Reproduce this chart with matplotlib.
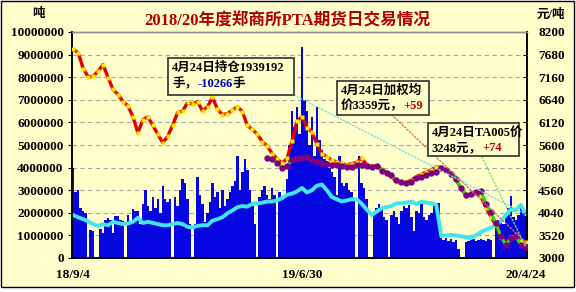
import numpy as np
import matplotlib
matplotlib.use('Agg')
import matplotlib.pyplot as plt
from matplotlib.patches import Rectangle, ConnectionPatch

plt.rcParams['font.family'] = ['Liberation Serif', 'Noto Sans CJK SC', 'DejaVu Sans']

# 日成交量（百万吨），约每2.5像素一根
vol = [
    4.0, 2.9, 3.0, 2.2, 2.1, 2.0, 0, 1.25, 1.2, 0,
    0, 1.3, 1.1, 1.7, 1.75, 1.7, 1.1, 1.85, 1.85, 1.7,
    1.65, 0, 1.9, 1.6, 2.15, 2.1, 2.1, 1.5, 2.4, 3.0,
    2.3, 2.1, 2.7, 2.2, 2.6, 2.0, 3.2, 2.6, 2.5, 2.6,
    0, 2.7, 2.3, 3.0, 3.5, 3.3, 2.6, 1.5, 0, 1.5,
    3.6, 2.8, 2.4, 1.6, 2.0, 2.5, 3.3, 2.7, 2.9, 2.2,
    3.0, 2.3, 2.6, 2.9, 3.2, 3.4, 4.5, 3.0, 3.8, 4.4,
    3.9, 3.0, 2.3, 1.5, 0, 2.7, 3.0, 3.2, 2.8, 2.6,
    3.1, 2.8, 0, 2.9, 2.6, 2.8, 3.5, 5.0, 6.5, 5.8,
    6.7, 5.5, 9.35, 7.0, 6.5, 5.0, 6.25, 4.5, 6.7, 5.2,
    4.8, 4.4, 4.3, 4.0, 3.8, 3.6, 2.8, 4.5, 3.3, 3.2,
    3.3, 3.0, 2.9, 2.6, 0, 4.5, 3.3, 3.1, 2.6, 0,
    0, 2.0, 2.2, 2.4, 2.2, 1.8, 1.7, 0, 1.9, 2.1,
    1.8, 1.5, 2.1, 2.3, 2.2, 2.35, 1.8, 1.2, 2.1, 2.0,
    2.4, 1.8, 1.7, 1.9, 2.0, 2.4, 2.3, 2.45, 0.9, 0.8,
    0.9, 0.75, 0.85, 0.7, 0.8, 0.4, 0, 0, 0.7, 0.75,
    0.8, 0.85, 0.75, 0.8, 0.85, 0.8, 0.75, 0.85, 0.8, 0,
    1.6, 1.7, 1.6, 1.5, 1.8, 2.2, 2.75, 1.8, 1.7, 1.9,
    2.3, 2.0, 2.0,
]

# 持仓（百万手），约每5像素一点
oi = [
    1.9, 1.8, 1.72, 1.62, 1.5, 1.42, 1.5, 1.45, 1.6, 1.55,
    1.5, 1.52, 1.6, 1.78, 1.55, 1.6, 1.55, 1.5, 1.45, 1.45,
    1.5, 1.55, 1.5, 1.38, 1.35, 1.42, 1.45, 1.45, 1.65, 1.72,
    1.8, 1.98, 2.1, 2.25, 2.3, 2.27, 2.4, 2.42, 2.45, 2.5,
    2.5, 2.55, 2.65, 2.8, 2.85, 2.95, 3.1, 2.9, 3.0, 3.2,
    3.25, 3.0, 2.7, 2.6, 2.5, 2.55, 2.6, 2.6, 2.4, 2.15,
    1.9, 2.05, 2.2, 2.25, 2.3, 2.42, 2.42, 2.45, 2.5, 2.38,
    2.5, 2.45, 2.42, 2.36, 0.98, 1.0, 1.02, 1.0, 0.96, 0.92,
    0.88, 1.0, 1.15, 1.25, 1.35, 1.46, 1.62, 1.9, 2.15, 2.1,
    2.35, 1.939192,
]

# 加权均价（元/吨）
wavg = [
    7800, 7720, 7360, 7170, 7180, 7300, 7450, 7150, 6880, 6760,
    6600, 6500, 6250, 5880, 6180, 6250, 6050, 5850, 5650, 5800,
    6060, 6350, 6380, 6580, 6540, 6600, 6380, 6480, 6700, 6420,
    6300, 6320, 6400, 6480, 6370, 6050, 5960, 5850, 5680, 5580,
    5400, 5280, 5180, 5290, 5700, 6150, 6250, 6000, 5900, 5620,
    5400, 5330, 5250, 5210, 5180, 5140, 5170, 5200, 5300, 5150,
    5110, 5120, 5050, 4960, 4860, 4760, 4720, 4740, 4800, 4870,
    4930, 4980, 5030, 5100, 5080, 5000, 4940, 4800, 4600, 4430,
    4450, 4500, 4420, 4150, 3950, 3750, 3480, 3330, 3480, 3530,
    3380, 3359,
]

# TA005 价格（元/吨），从2019年5月中旬开始
ta005 = [
    5300, 5280, 5180, 5080, 5120, 5250, 5300, 5300, 5320, 5250,
    5220, 5190, 5170, 5140, 5140, 5120, 5100, 5100, 5130, 5140,
    5120, 5100, 5110, 5010, 4950, 4900, 4800, 4740, 4730, 4760,
    4830, 4860, 4900, 4960, 4990, 5060, 5020, 4940, 4820, 4620,
    4450, 4470, 4520, 4540, 4250, 4050, 3800, 3500, 3300, 3450,
    3500, 3300, 3248,
]

date_labels = ['18/9/4', '19/6/30', '20/4/24']
left_ticks = list(range(0, 10000001, 1000000))
right_ticks = list(range(3000, 8201, 520))

W, H = 576, 292
BG = '#FFFFCC'
BLUE = '#0606E0'
CYAN = '#40E6F4'


def fx(x):
    return x / W


def fy(y):
    return 1 - y / H


fig = plt.figure(figsize=(W / 100, H / 100), dpi=100, facecolor='white')
fig.add_artist(Rectangle((fx(0.5), fy(287)), fx(573), 286.5 / H, transform=fig.transFigure,
                         facecolor=BG, edgecolor='black', lw=1.0, zorder=-5))

ax = fig.add_axes([fx(72), fy(258), fx(527) - fx(72), (258 - 32) / H])
ax.set_facecolor(BG)

x_bar = np.arange(len(vol))
x_line = np.arange(len(oi)) * 2
ax.bar(x_bar, np.array(vol) * 1e6, width=1.0, color=BLUE, linewidth=0, zorder=2)
ax.plot(x_line, np.array(oi) * 1e6, color=CYAN, lw=2.8, zorder=3, solid_capstyle='round')
ax.set_xlim(-0.5, 182.5)
ax.set_ylim(0, 1e7)
ax.set_yticks(left_ticks)
ax.set_yticklabels([str(v) for v in left_ticks])
ax.yaxis.grid(True, color='#A8A8A8', linestyle=(0, (4, 3)), lw=0.8)
ax.set_axisbelow(True)
ax.set_xticks([0, 92, 182])
ax.set_xticklabels(date_labels)
ax.tick_params(axis='x', length=0, pad=8, labelsize=9.5)
ax.tick_params(axis='y', length=3, direction='out', pad=3, labelsize=9.5)
for lab in ax.get_xticklabels() + ax.get_yticklabels():
    lab.set_fontweight('bold')

ax2 = ax.twinx()
ax2.plot(x_line, wavg, color='#E00000', lw=2.4, zorder=3,
         marker='s', ms=3.2, mfc='#FFE800', mec='none')
ax2.plot(x_line[len(wavg) - len(ta005):], ta005, color='#22DD22', lw=2.2, zorder=4,
         marker='o', ms=4.6, mfc='#800080', mec='none')
ax2.set_ylim(3000, 8200)
ax2.set_yticks(right_ticks)
ax2.set_yticklabels([str(v) for v in right_ticks])
ax2.tick_params(axis='y', length=3, direction='in', pad=8, labelsize=9.5)
for lab in ax2.get_yticklabels():
    lab.set_fontweight('bold')

for a in (ax, ax2):
    for s in ('left', 'right', 'bottom'):
        a.spines[s].set_color('black')
        a.spines[s].set_linewidth(1.2)
    a.spines['top'].set_color('#909090')
    a.spines['top'].set_linewidth(1.0)

# 标题与单位
fig.text(fx(287), fy(21), '2018/20年度郑商所PTA期货日交易情况', ha='center', va='center',
         fontsize=12, fontweight='bold', color='#B00000')
fig.text(fx(38), fy(14), '吨', ha='center', va='center', fontsize=9, fontweight='bold')
fig.text(fx(551), fy(15), '元/吨', ha='center', va='center', fontsize=9, fontweight='bold')

renderer = fig.canvas.get_renderer()


def rich(x, y, parts, size=9):
    for s, c in parts:
        t = fig.text(fx(x), fy(y), s, color=c, fontsize=size, fontweight='bold',
                     ha='left', va='center', zorder=6)
        x = t.get_window_extent(renderer).x1


def box(x0, y0, x1, y1):
    fig.add_artist(Rectangle((fx(x0), fy(y1)), fx(x1 - x0), (y1 - y0) / H,
                             transform=fig.transFigure, facecolor=BG,
                             edgecolor='#404040', lw=1.3, zorder=5))


def leader(x, y, axis, xy, color):
    cp = ConnectionPatch(xyA=(fx(x), fy(y)), coordsA=fig.transFigure, xyB=xy,
                         coordsB=axis.transData, color=color, lw=1.0,
                         linestyle=(0, (1, 1.5)), zorder=4.5)
    fig.add_artist(cp)


leader(294, 95, ax, (x_line[-1], oi[-1] * 1e6), '#80DCDC')
leader(392, 115, ax2, (x_line[-1], wavg[-1]), '#D07850')
leader(482, 157, ax2, (x_line[-1], ta005[-1]), '#78E078')

box(168, 58, 294, 95)
rich(172, 68, [('4月24日持仓1939192', 'black')])
rich(172, 84, [('手，', 'black'), ('-10266', '#0000C0'), ('手', 'black')])

box(337, 81, 429, 115)
rich(341, 91, [('4月24日加权均', 'black')])
rich(341, 106, [('价3359元，', 'black'), ('+59', '#C00000')])

box(428, 123, 519, 156)
rich(432, 133, [('4月24日TA005价', 'black')])
rich(432, 148, [('3248元，', 'black'), ('+74', '#C00000')])

fig.savefig('out.png', dpi=100, facecolor='white')
